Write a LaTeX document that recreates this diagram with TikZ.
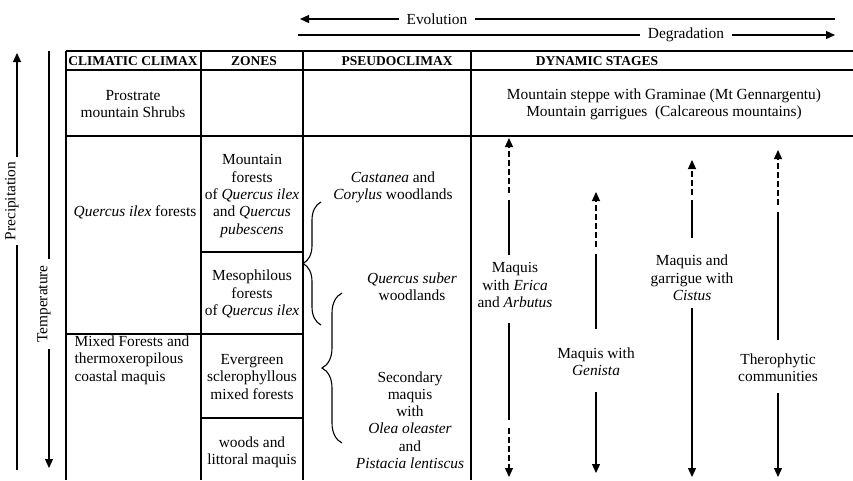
\documentclass[tikz,border=0pt]{standalone}
\usepackage{fontspec}
\setmainfont{Liberation Serif}
\usepackage{tikz}
\usetikzlibrary{arrows.meta, decorations.pathreplacing, positioning}

\tikzset{
  rule/.style={line width=1.3pt},
  cell/.style={align=center, inner sep=0pt, font=\fontsize{15.4}{17.3}\selectfont},
  head/.style={inner sep=0pt, font=\fontsize{13.5}{16}\selectfont\bfseries},
  axislbl/.style={inner sep=0pt, inner xsep=7pt, font=\fontsize{15.4}{17.3}\selectfont},
  tip/.style={-{Triangle[length=9pt,width=8pt]}},
  brk/.style={dash pattern=on 6pt off 3pt},
  curly/.style={decorate, decoration={brace, amplitude=#1}, line width=1.1pt},
}

\begin{document}
\begin{tikzpicture}[x=1pt, y=-1pt, line width=1.2pt, transform shape]
			\useasboundingbox (0,0) rectangle (853,480);
			% Paths, nodes and rules:
			\draw[rule] (66,51) -- (853,51);
			\draw[rule] (66,70) -- (853,70);
			\draw[rule] (66,136) -- (853,136);
			\draw[rule] (201,252) -- (303,252);
			\draw[rule] (66,334) -- (303,334);
			\draw[rule] (201,418) -- (303,418);
			\draw[rule] (66,51) -- (66,480);
			\draw[rule] (201,51) -- (201,480);
			\draw[rule] (303,51) -- (303,480);
			\draw[rule] (471,51) -- (471,480);
			\node[head](H1) at (133,61){CLIMATIC CLIMAX};
			\node[head](H2) at (254,61){ZONES};
			\node[head](H3) at (397,61){PSEUDOCLIMAX};
			\node[head](H4) at (597,61){DYNAMIC STAGES};
			\node[cell](C1) at (133,104){Prostrate\\mountain Shrubs};
			\node[cell](C2) at (135,212){\textit{Quercus ilex} forests};
			\node[cell, align=left, anchor=west](C3) at (74,360){Mixed Forests and\\thermoxeropilous\\coastal maquis};
			\node[cell](Z1) at (252,196){Mountain\\forests\\of \textit{Quercus ilex}\\and \textit{Quercus}\\\textit{pubescens}};
			\node[cell](Z2) at (252,294){Mesophilous\\forests\\of \textit{Quercus ilex}};
			\node[cell](Z3) at (252,377){Evergreen\\sclerophyllous\\mixed forests};
			\node[cell](Z4) at (252,452){woods and\\littoral maquis};
			\node[cell](P1) at (393,187){\textit{Castanea} and\\\textit{Corylus} woodlands};
			\node[cell](P2) at (412,287){\textit{Quercus suber}\\woodlands};
			\node[cell](P3) at (410,420){Secondary\\maquis\\with\\\textit{Olea oleaster}\\and\\\textit{Pistacia lentiscus}};
			\draw[curly=18pt] (321,325) -- (321,202);
			\draw[curly=20pt] (342,443) -- (342,293);
			\node[cell](D0) at (664,104){Mountain steppe with Graminae (Mt Gennargentu)\\Mountain garrigues\ \ (Calcareous mountains)};
			\node[cell](D1) at (515,285){Maquis\\with \textit{Erica}\\and \textit{Arbutus}};
			\node[cell](D2) at (596,362){Maquis with\\\textit{Genista}};
			\node[cell](D3) at (692,278){Maquis and\\garrigue with\\\textit{Cistus}};
			\node[cell](D4) at (778,368){Therophytic\\communities};
			\draw[brk, tip] (509,193) -- (509,138);
			\draw (509,200) -- (509,255);
			\draw (509,323) -- (509,420);
			\draw[brk, tip] (509,428) -- (509,477);
			\draw[brk, tip] (596,247) -- (596,192);
			\draw (596,254) -- (596,329);
			\draw[tip] (596,392) -- (596,473);
			\draw[brk, tip] (692,195) -- (692,160);
			\draw (692,200) -- (692,238);
			\draw[tip] (692,308) -- (692,477);
			\draw[brk, tip] (778,205) -- (778,150);
			\draw (778,212) -- (778,340);
			\draw[tip] (778,393) -- (778,477);
			% Axes:
			\node[axislbl](evol) at (437,19){Evolution};
			\draw[tip] (evol.west) -- (300,19);
			\draw (evol.east) -- (835,19);
			\node[axislbl](degr) at (686,35){Degradation};
			\draw (298,35) -- (degr.west);
			\draw[tip] (degr.east) -- (835,35);
			\node[axislbl, inner xsep=4pt, rotate=90](prec) at (12,201){Precipitation};
			\coordinate (precbot) at (17,470);
			\coordinate (prectop) at (17,53);
			\draw (precbot) -- (precbot |- prec.west);
			\draw[tip] (prectop |- prec.east) -- (prectop);
			\node[axislbl, inner xsep=6pt, rotate=90](temp) at (44,304){Temperature};
			\coordinate (temptop) at (49,51);
			\coordinate (tempbot) at (49,468);
			\draw (temptop) -- (temptop |- temp.east);
			\draw[tip] (tempbot |- temp.west) -- (tempbot);
		\end{tikzpicture}
\end{document}
